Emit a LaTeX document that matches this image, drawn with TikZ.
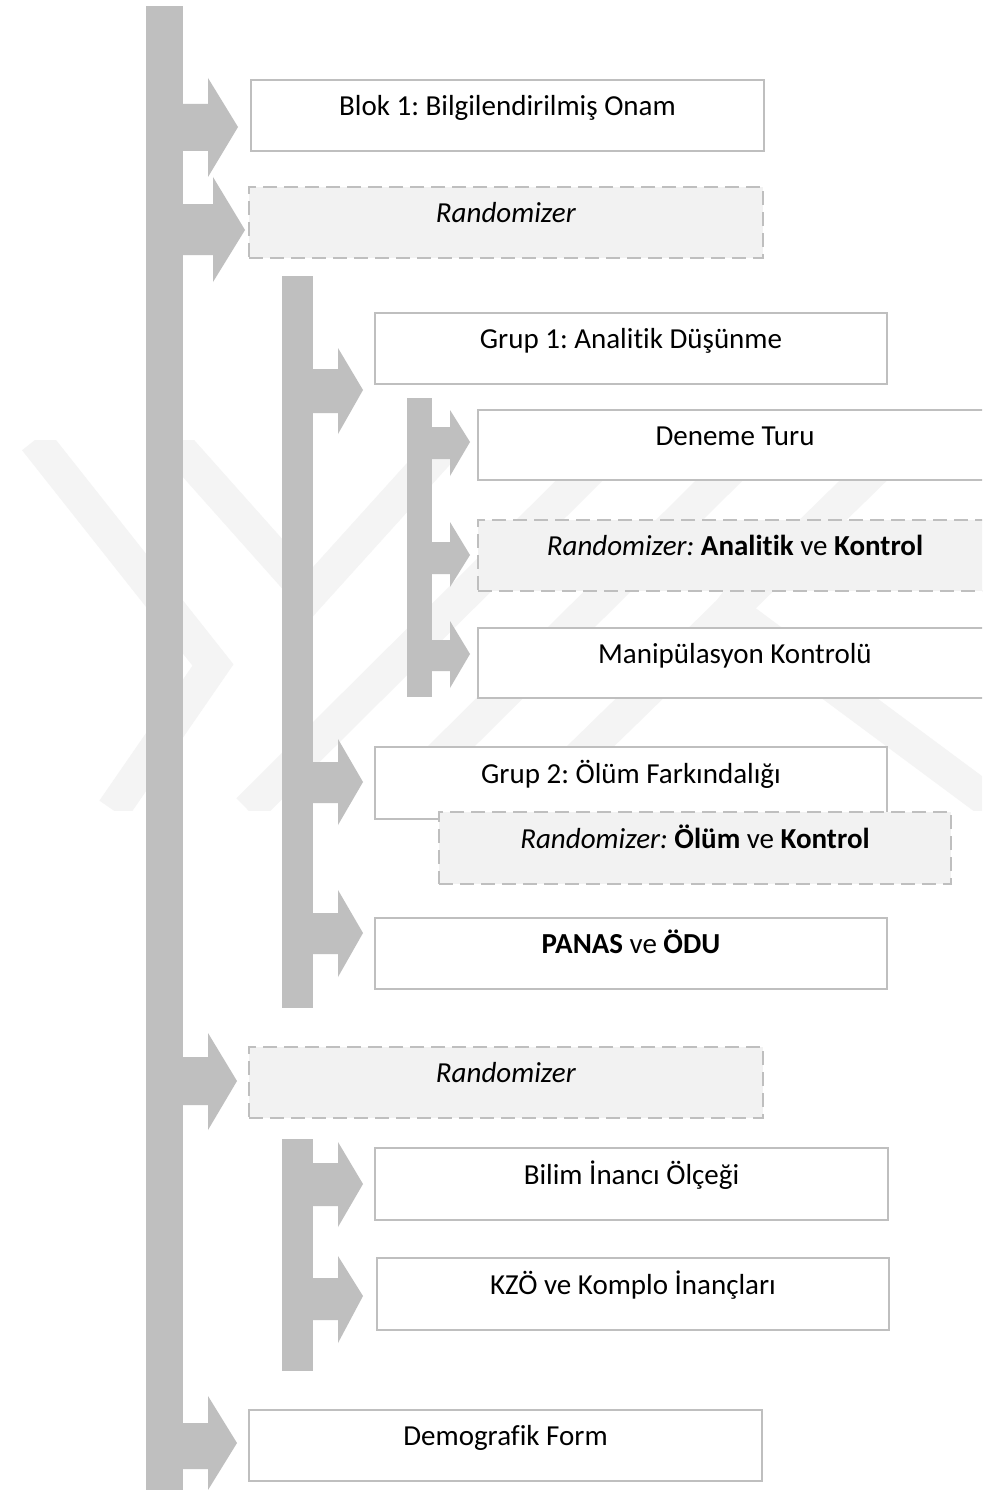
\documentclass[tikz,border=0pt]{standalone}
\usepackage{fontspec}
\setmainfont{Carlito}[Ligatures=NoCommon]
\definecolor{barcol}{HTML}{BFBFBF}
\definecolor{boxline}{HTML}{BFBFBF}
\definecolor{randfill}{HTML}{F2F2F2}
\definecolor{wmark}{HTML}{F4F4F4}
\tikzset{
  barshape/.style={fill=barcol, draw=none},
  wmband/.style={draw=wmark, line width=33pt, line join=miter},
  stepbox/.style={draw=boxline, fill=white, line width=2pt, rectangle, inner sep=0pt,
     anchor=north west, text height=14pt, text depth=14pt,
     font=\fontsize{29}{34}\selectfont\frenchspacing},
  randbox/.style={stepbox, fill=randfill, dash pattern=on 14pt off 7pt},
}
% branch arrow: #1 bar right edge, #2 shaft end, #3 tip x, #4 #5 shaft y, #6 #7 head y, #8 tip y
\newcommand{\brarrow}[8]{%
  \fill[barshape] (#1-1,#4) -- (#2,#4) -- (#2,#6) -- (#3,#8) -- (#2,#7) -- (#2,#5) -- (#1-1,#5) -- cycle;}
\begin{document}
\begin{tikzpicture}[x=1pt,y=-1pt]
\clip (0,0) rectangle (982,1490);
\fill[white] (0,0) rectangle (982,1490);
% faint watermark
\begin{scope}
\clip (0,440) rectangle (982,810);
\draw[wmband] (35,440) -- (213,665) -- (113,810);
\draw[wmband] (172,440) -- (310,595) -- (450,440);
\draw[wmband] (248,810) -- (620,440);
\draw[wmband] (387,810) -- (760,440);
\draw[wmband] (525,810) -- (905,440);
\draw[wmband] (717,600) -- (1000,810);
\end{scope}
% bars
\fill[barshape] (146,6) rectangle (183,1490);
\fill[barshape] (282,276) rectangle (313,1008);
\fill[barshape] (282,1139) rectangle (313,1371);
\fill[barshape] (407,398) rectangle (432,697);
% level 1 arrows
\brarrow{183}{208}{238}{104}{151}{78}{177}{127}
\brarrow{183}{213}{245}{204}{255}{177}{282}{230}
\brarrow{183}{208}{237}{1057}{1105}{1033}{1130}{1081}
\brarrow{183}{208}{237}{1423}{1469}{1396}{1490}{1443}
% level 2 arrows
\brarrow{313}{338}{363}{369}{413}{348}{434}{390}
\brarrow{313}{338}{363}{762}{803}{739}{825}{782}
\brarrow{313}{338}{363}{913}{954}{890}{977}{933}
\brarrow{313}{338}{363}{1163}{1206}{1142}{1227}{1184}
\brarrow{313}{338}{363}{1278}{1320}{1256}{1343}{1296}
% level 3 arrows
\brarrow{432}{450}{470}{427}{459}{410}{476}{442}
\brarrow{432}{450}{470}{542}{574}{522}{587}{555}
\brarrow{432}{450}{470}{640}{671}{621}{688}{654}
% boxes
\node[stepbox, minimum width=513pt, minimum height=71pt] (b1) at (250,79) {Blok 1: Bilgilendirilmiş Onam};
\node[randbox, minimum width=514pt, minimum height=71pt] (r1) at (248,186) {\textit{Randomizer}};
\node[stepbox, minimum width=512pt, minimum height=71pt] (g1) at (374,312) {Grup 1: Analitik Düşünme};
\node[stepbox, minimum width=514pt, minimum height=70pt] (d1) at (477,409) {Deneme Turu};
\node[randbox, minimum width=514pt, minimum height=71pt] (r2) at (477,519) {\textit{Randomizer:} \textbf{Analitik} ve \textbf{Kontrol}};
\node[stepbox, minimum width=514pt, minimum height=70pt] (m1) at (477,627) {Manipülasyon Kontrolü};
\node[stepbox, minimum width=512pt, minimum height=72pt] (g2) at (374,746) {Grup 2: Ölüm Farkındalığı};
\node[randbox, minimum width=512pt, minimum height=72pt] (r3) at (438,811) {\textit{Randomizer:} \textbf{Ölüm} ve \textbf{Kontrol}};
\node[stepbox, minimum width=512pt, minimum height=71pt] (p1) at (374,917) {\textbf{PANAS} ve \textbf{ÖDU}};
\node[randbox, minimum width=514pt, minimum height=71pt] (r4) at (248,1046) {\textit{Randomizer}};
\node[stepbox, minimum width=513pt, minimum height=72pt] (bi) at (374,1147) {Bilim İnancı Ölçeği};
\node[stepbox, minimum width=512pt, minimum height=72pt] (kz) at (376,1257) {KZÖ ve Komplo İnançları};
\node[stepbox, minimum width=513pt, minimum height=71pt] (de) at (248,1409) {Demografik Form};
\end{tikzpicture}
\end{document}
